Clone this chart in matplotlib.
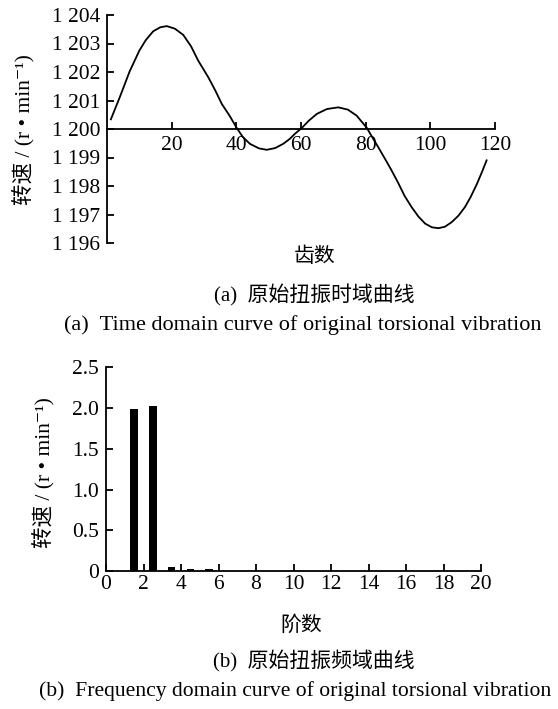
import matplotlib
matplotlib.use("Agg")
import matplotlib.pyplot as plt

plt.rcParams['font.family'] = ['Liberation Serif', 'Noto Sans CJK SC', 'DejaVu Serif']

# Time-domain curve
tooth = [1.2, 4, 7, 10, 12, 14.3, 16.5, 18.5, 21, 23.6, 26, 28.2, 31.3, 33.5, 35.5, 38, 40.1,
         42, 44.2, 47, 49.4, 52, 54.5, 56.6, 58.1, 60.2, 62.5, 64.9, 68, 71.5, 74.5, 77.2,
         80.3, 82, 83.9, 86, 88, 90.1, 92, 94.2, 96.3, 98.4, 100.5, 102.5, 104.5, 106.6,
         108.7, 110.7, 112.5, 114.4, 116, 117.4]
speed = [1200.34, 1201.13, 1202.02, 1202.75, 1203.12, 1203.43, 1203.57, 1203.61, 1203.52,
         1203.3, 1202.9, 1202.4, 1201.82, 1201.35, 1200.88, 1200.45, 1200.04, 1199.72,
         1199.48, 1199.32, 1199.27, 1199.33, 1199.48, 1199.66, 1199.83, 1200.03, 1200.3,
         1200.53, 1200.7, 1200.76, 1200.68, 1200.47, 1200.05, 1199.72, 1199.36, 1198.95,
         1198.55, 1198.1, 1197.66, 1197.26, 1196.93, 1196.68, 1196.55, 1196.52, 1196.57,
         1196.73, 1196.96, 1197.26, 1197.62, 1198.07, 1198.5, 1198.9]

# Frequency-domain bars
order = [1.5, 2.5, 3.5, 4.5, 5.5]
amp = [1.99, 2.03, 0.05, 0.025, 0.025]

top_yticks = [1196, 1197, 1198, 1199, 1200, 1201, 1202, 1203, 1204]
top_ylabels = ['1 196', '1 197', '1 198', '1 199', '1 200', '1 201', '1 202', '1 203', '1 204']
top_xticks = [20, 40, 60, 80, 100, 120]
bot_xticks = [0, 2, 4, 6, 8, 10, 12, 14, 16, 18, 20]
bot_yticks = [0, 0.5, 1.0, 1.5, 2.0, 2.5]
bot_ylabels = ['0', '0.5', '1.0', '1.5', '2.0', '2.5']

fig = plt.figure(figsize=(5.58, 7.09), dpi=100)

ylab = '转速 / (r • min⁻¹)'
tfs = 15.5

# ---- top axes
ax1 = fig.add_axes([107/558, 1-243/709, (495-107)/558, (243-15)/709])
ax1.plot(tooth, speed, color='black', lw=1.3)
ax1.set_xlim(0, 120)
ax1.set_ylim(1196, 1204)
ax1.spines['top'].set_visible(False)
ax1.spines['right'].set_visible(False)
ax1.spines['bottom'].set_position(('data', 1200))
for s in ax1.spines.values():
    s.set_linewidth(1.3)
ax1.set_xticks(top_xticks)
ax1.set_yticks(top_yticks)
ax1.set_yticklabels(top_ylabels)
ax1.tick_params(axis='both', direction='in', length=5, width=1.3, labelsize=tfs)
ax1.tick_params(axis='x', pad=5)
ax1.tick_params(axis='y', pad=5)
fig.text(23/558, 1-130/709, ylab, rotation=90, ha='center', va='center', fontsize=15.5)
fig.text(315/558, 1-257/709, '齿数', ha='center', va='center', fontsize=15)
fig.text(314/558, 1-295/709, '(a)  原始扭振时域曲线', ha='center', va='center', fontsize=15)
fig.text(303/558, 1-325/709, '(a)  Time domain curve of original torsional vibration',
         ha='center', va='center', fontsize=16)

# ---- bottom axes
ax2 = fig.add_axes([106/558, 1-571/709, (481-106)/558, (571-367.3)/709])
ax2.bar(order, amp, width=0.4, color='black')
ax2.set_xlim(0, 20)
ax2.set_ylim(0, 2.5)
ax2.spines['top'].set_visible(False)
ax2.spines['right'].set_visible(False)
for s in ax2.spines.values():
    s.set_linewidth(1.3)
ax2.set_xticks(bot_xticks)
ax2.set_yticks(bot_yticks)
ax2.set_yticklabels(bot_ylabels)
ax2.tick_params(axis='both', direction='in', length=5, width=1.3, labelsize=tfs)
ax2.tick_params(axis='x', pad=3)
ax2.tick_params(axis='y', pad=5)
fig.text(43/558, 1-473/709, ylab, rotation=90, ha='center', va='center', fontsize=15.5)
fig.text(301/558, 1-626/709, '阶数', ha='center', va='center', fontsize=15)
fig.text(314/558, 1-661/709, '(b)  原始扭振频域曲线', ha='center', va='center', fontsize=15)
fig.text(295/558, 1-691/709, '(b)  Frequency domain curve of original torsional vibration',
         ha='center', va='center', fontsize=15.6)

fig.savefig('out.png', dpi=100)
